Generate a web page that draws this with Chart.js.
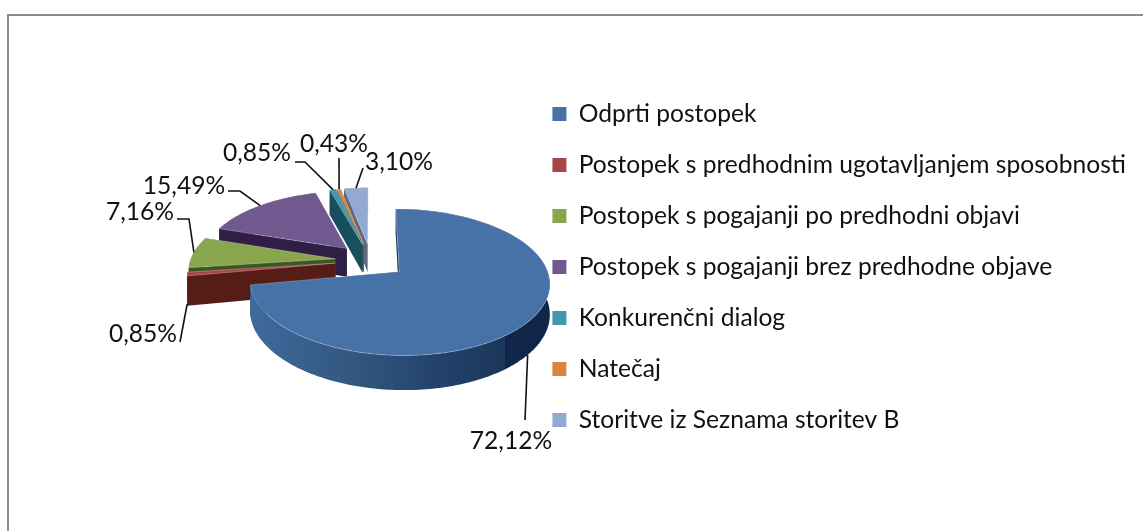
<!DOCTYPE html>
<html>
<head>
<meta charset="utf-8">
<style>
    html, body { margin: 0; padding: 0; background: #fff; overflow: hidden; }
    #wrap { position: relative; width: 1143px; height: 531px; }
    #frame { position: absolute; left: 7px; top: 14px; right: -5px; bottom: -5px; border: 2px solid #8c8c8c; }
    canvas { position: absolute; left: 0; top: 0; }
</style>
<script src="https://cdn.jsdelivr.net/npm/chart.js@4"></script>
</head>
<body>
<div id="wrap">
    <div id="frame"></div>
    <canvas id="pieChart" width="1143" height="531"></canvas>
</div>
<script>
// Chart data
const categories = [
    "Odprti postopek",
    "Postopek s predhodnim ugotavljanjem sposobnosti",
    "Postopek s pogajanji po predhodni objavi",
    "Postopek s pogajanji brez predhodne objave",
    "Konkurenčni dialog",
    "Natečaj",
    "Storitve iz Seznama storitev B"
];
const shares = [72.12, 0.85, 7.16, 15.49, 0.85, 0.43, 3.10];

// Colours: top face, then side faces
const topColors = ["#4672a8", "#a94643", "#89a54e", "#71588f", "#4198af", "#db843d", "#93a9cf"];
const sideColors = ["#1f3b60", "#561d16", "#3c5522", "#2f1f47", "#174f5e", "#8a5222", "#5d6a85"];

// Label text position and leader elbow for each slice
const labelLayout = [
    { x: 511, y: 441, elbow: null, end: [525, 420], fromWall: true },
    { x: 143, y: 334, elbow: null, end: [180, 342], fromWall: true },
    { x: 140, y: 212, elbow: [189, 219], end: [177, 219] },
    { x: 184, y: 186, elbow: [240, 191], end: [228, 191] },
    { x: 257, y: 153, elbow: [305, 162], end: [295, 162] },
    { x: 334, y: 144, elbow: null, end: [339, 158] },
    { x: 399, y: 162, elbow: null, end: [363, 168] }
];

const fontFamily = "Lato, 'Open Sans', sans-serif";
const fontSize = 24.6;
const tilt = 0.473;      // vertical squash of the pie plane
const persp = 0.00097;   // nearer points get bigger
const depth = 29;        // wall height
const planeShift = -6.5; // pie sits a little above the legend middle

function projector(cx, cy) {
    return (x, y, lift) => {
        const u = x - cx, v = y - cy;
        const s = 1 / (1 - persp * v);
        return { x: cx + u * s, y: cy + planeShift + v * tilt * s + (lift || 0) * s };
    };
}

function fillPoly(ctx, pts, fill) {
    ctx.beginPath();
    pts.forEach((p, i) => i ? ctx.lineTo(p.x, p.y) : ctx.moveTo(p.x, p.y));
    ctx.closePath();
    ctx.fillStyle = fill;
    ctx.fill();
}

// Geometry of one arc element in the flat pie plane
function arcGeom(arc, offset) {
    const { x, y, startAngle, endAngle, outerRadius } = arc.getProps(["x", "y", "startAngle", "endAngle", "outerRadius"], true);
    const mid = (startAngle + endAngle) / 2;
    return {
        ax: x + Math.cos(mid) * offset,
        ay: y + Math.sin(mid) * offset,
        startAngle, endAngle, mid, outerRadius
    };
}

// Draws the pie elements the library laid out as tilted 3D slices
const pie3d = {
    id: "pie3d",
    beforeDatasetsDraw(chart) {
        const ctx = chart.ctx;
        const meta = chart.getDatasetMeta(0);
        const offset = chart.data.datasets[0].offset;
        const cx = meta.data[0].x, cy = meta.data[0].y;
        const project = projector(cx, cy);

        const slices = meta.data.map((arc, i) => ({ i, g: arcGeom(arc, offset) }));
        const order = slices.slice().sort((a, b) => a.g.ay - b.g.ay);

        order.forEach(({ i, g }) => {
            const n = Math.max(2, Math.ceil((g.endAngle - g.startAngle) / 0.02));
            const rim = [];
            for (let k = 0; k <= n; k++) {
                const a = g.startAngle + (g.endAngle - g.startAngle) * k / n;
                rim.push([g.ax + Math.cos(a) * g.outerRadius, g.ay + Math.sin(a) * g.outerRadius]);
            }
            const top = rim.map(p => project(p[0], p[1], 0));
            const bottom = rim.map(p => project(p[0], p[1], depth));
            const apexTop = project(g.ax, g.ay, 0);
            const apexBottom = project(g.ax, g.ay, depth);

            // cut faces
            fillPoly(ctx, [apexTop, top[0], bottom[0], apexBottom], sideColors[i]);
            fillPoly(ctx, [apexTop, top[n], bottom[n], apexBottom], sideColors[i]);

            // outer wall
            let wall = sideColors[i];
            if (i === 0) {
                const xs = top.map(p => p.x);
                wall = ctx.createLinearGradient(Math.min(...xs), 0, Math.max(...xs), 0);
                wall.addColorStop(0, "#3e6a9b");
                wall.addColorStop(0.35, "#32577f");
                wall.addColorStop(0.65, "#21406a");
                wall.addColorStop(0.85, "#1c3659");
                wall.addColorStop(0.851, "#0f2549");
                wall.addColorStop(1, "#0f2549");
            }
            fillPoly(ctx, top.concat(bottom.slice().reverse()), wall);

            // top face
            fillPoly(ctx, [apexTop].concat(top), topColors[i]);
            ctx.strokeStyle = "rgba(255,255,255,0.25)";
            ctx.lineWidth = 1;
            ctx.stroke();
        });

        // leader lines and value labels
        ctx.font = fontSize + "px " + fontFamily;
        ctx.textAlign = "center";
        ctx.textBaseline = "middle";
        slices.forEach(({ i, g }) => {
            const lay = labelLayout[i];
            const rx = g.ax + Math.cos(g.mid) * g.outerRadius;
            const ry = g.ay + Math.sin(g.mid) * g.outerRadius;
            const start = project(rx, ry, lay.fromWall ? depth : 0);
            ctx.beginPath();
            ctx.moveTo(start.x, start.y);
            if (lay.elbow) ctx.lineTo(lay.elbow[0], lay.elbow[1]);
            ctx.lineTo(lay.end[0], lay.end[1]);
            ctx.strokeStyle = "#111";
            ctx.lineWidth = 1.6;
            ctx.stroke();
            ctx.fillStyle = "#111";
            ctx.fillText(shares[i].toFixed(2).replace(".", ",") + "%", lay.x, lay.y);
        });
        return false;
    }
};

const ctx = document.getElementById("pieChart").getContext("2d");
new Chart(ctx, {
    type: "pie",
    data: {
        labels: categories,
        datasets: [
            {
                data: shares,
                backgroundColor: topColors,
                borderWidth: 0,
                offset: 36
            }
        ]
    },
    options: {
        responsive: false,
        animation: false,
        radius: 145,
        layout: { padding: { left: 216, right: 7, top: 3 } },
        plugins: {
            tooltip: { enabled: false },
            legend: {
                position: "right",
                maxWidth: 640,
                labels: {
                    boxWidth: 14,
                    boxHeight: 14,
                    padding: 26.4,
                    color: "#111",
                    font: { family: fontFamily, size: fontSize }
                }
            }
        }
    },
    plugins: [pie3d]
});
</script>
</body>
</html>
